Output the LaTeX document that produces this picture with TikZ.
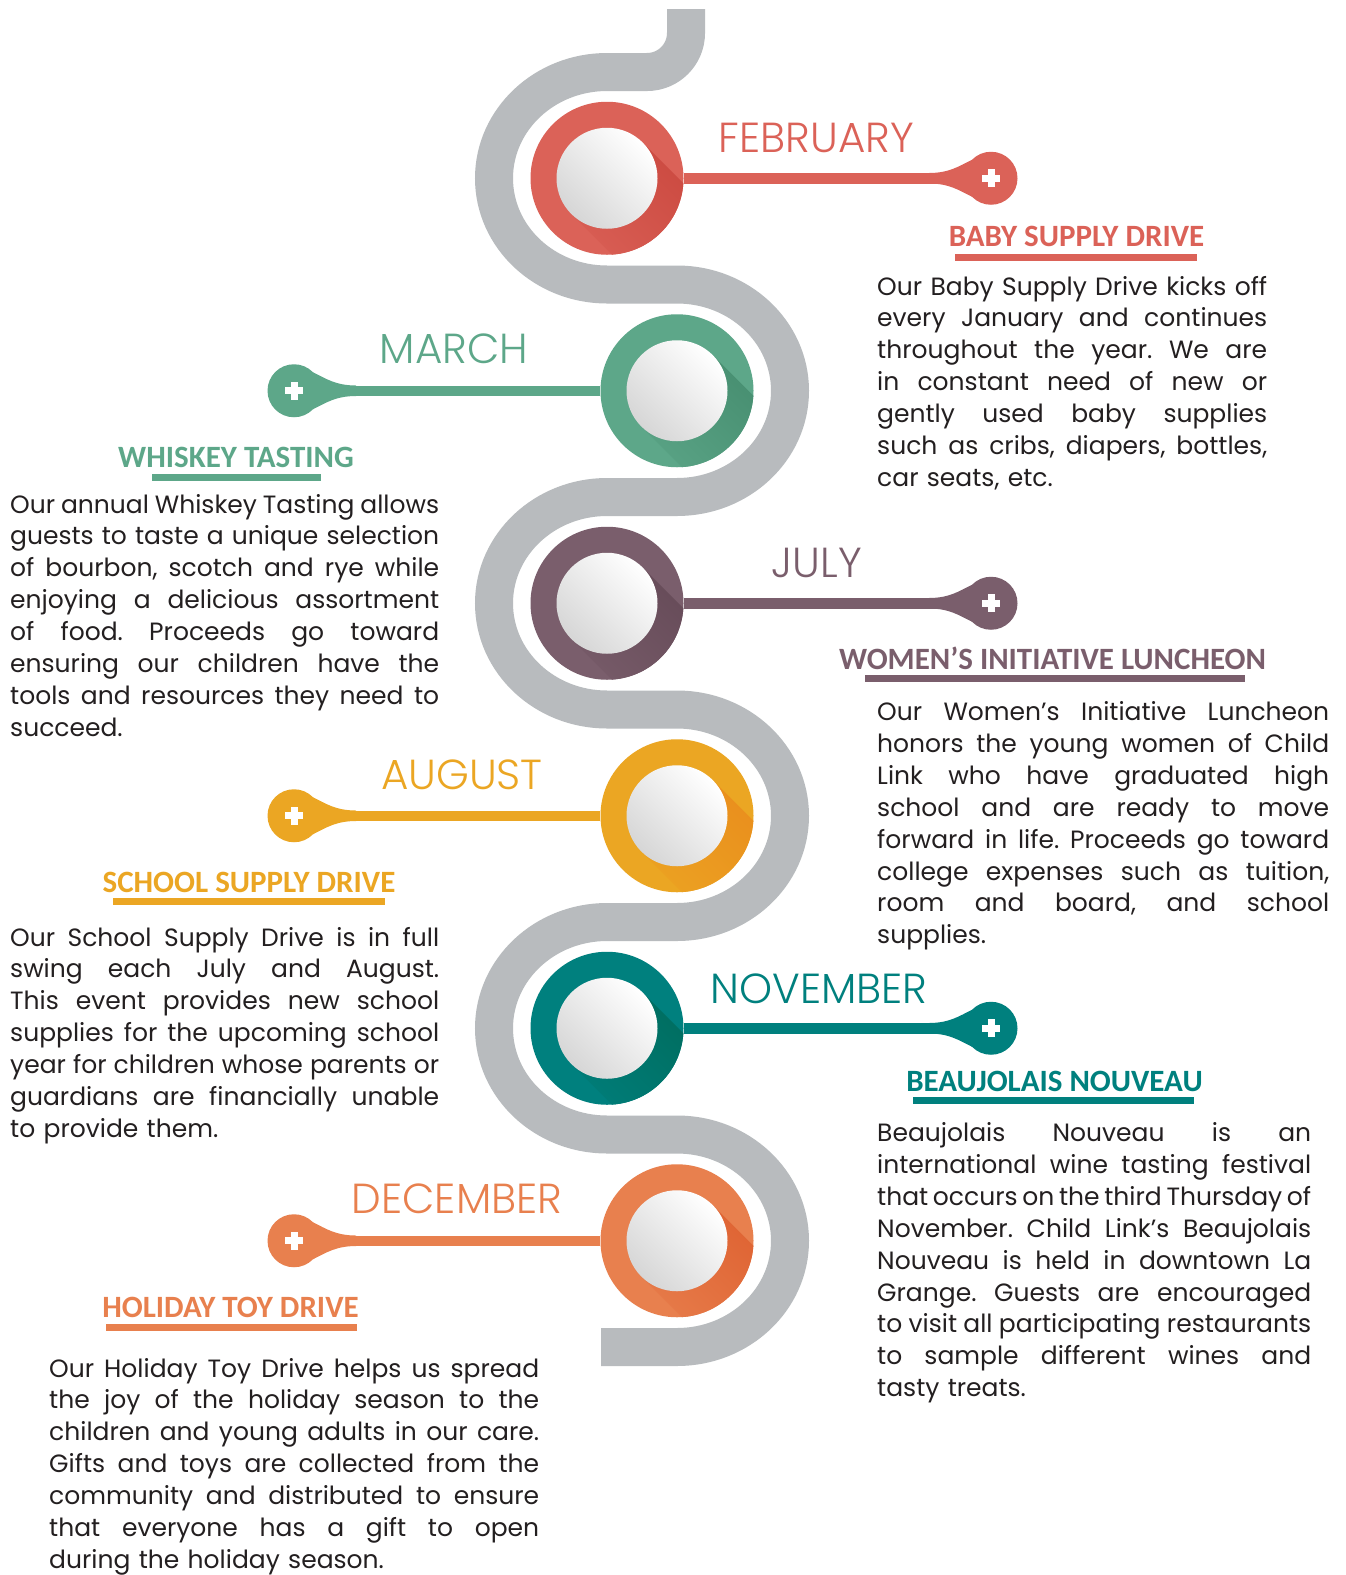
\documentclass[tikz,border=0pt]{standalone}
\usepackage{fontspec}
\usetikzlibrary{calc}
\setmainfont{Poppins}
\IfFontExistsTF{Poppins Light}{\newfontfamily\monthfont{Poppins Light}}{\newfontfamily\monthfont{Poppins}}
\newfontfamily\titlefont{Carlito}
\definecolor{roadgray}{HTML}{B8BBBE}
\definecolor{inkgray}{HTML}{231F20}
\definecolor{febcol}{HTML}{DB6258}
\definecolor{marcol}{HTML}{5DA789}
\definecolor{julcol}{HTML}{7A5E6C}
\definecolor{augcol}{HTML}{EBA623}
\definecolor{novcol}{HTML}{00807E}
\definecolor{deccol}{HTML}{E8804E}
\definecolor{febshd}{HTML}{C9463D}
\definecolor{marshd}{HTML}{438A6C}
\definecolor{julshd}{HTML}{634855}
\definecolor{augshd}{HTML}{EA8A1C}
\definecolor{novshd}{HTML}{006A5A}
\definecolor{decshd}{HTML}{DD5E2E}
\frenchspacing
\newcommand\evw{400pt}
\newcommand\jl[1]{\makebox[\evw][s]{\spaceskip=\fontdimen2\font plus 1em minus .2em\relax #1}}
% long shadow and white button inside a ring
\newcommand\evshine[3]{%
  \begin{scope}
    \clip (#1.center) circle[radius=76.5];
    \shade[left color=#3, right color=#2, shading angle=-45]
      ($(#1.center)+(35.7,-35.7)$) -- ++(110,110) -- ++(-71.4,71.4) -- ($(#1.center)+(-35.7,35.7)$) -- cycle;
  \end{scope}
  \shade[left color=white, right color=black!16, shading angle=-45] (#1.center) circle[radius=50.5];}
% widening of a connector where it meets the plus dot
\newcommand\evflare[3]{%
  \fill[#3] ($(#1)+(#2*62,-5.25)$) .. controls ($(#1)+(#2*42,-5.25)$) and ($(#1)+(#2*32,-12)$) .. ($(#1)+(#2*19,-18.5)$)
    -- ($(#1)+(#2*19,18.5)$) .. controls ($(#1)+(#2*32,12)$) and ($(#1)+(#2*42,5.25)$) .. ($(#1)+(#2*62,5.25)$) -- cycle;}

\begin{document}
\begin{tikzpicture}[x=1pt,y=-1pt]
\tikzset{
  evring/.style={circle,fill=#1,minimum size=153,inner sep=0},
  evdot/.style={circle,fill=#1,minimum size=53,inner sep=0,
    path picture={\fill[white] ($(path picture bounding box.center)+(-9,-3.5)$) rectangle ++(18,7);
                  \fill[white] ($(path picture bounding box.center)+(-3.5,-9)$) rectangle ++(7,18);}},
  evline/.style={draw=#1,line width=10.5},
  evmonth/.style={anchor=base,text=#1,inner sep=0,font=\monthfont\fontsize{42}{42}\selectfont},
  evtitle/.style={anchor=base,text=#1,inner sep=0,font=\titlefont\bfseries\fontsize{31}{31}\selectfont},
  evbar/.style={draw=#1,line width=7},
  evtext/.style={anchor=base west,text=inkgray,align=left,text width=#1,inner sep=0,
    execute at begin node={\renewcommand\evw{#1pt}},
    font=\fontsize{25}{31.9}\selectfont}
}
\useasboundingbox (0,0) rectangle (1345,1575);
\fill[white] (0,0) rectangle (1345,1575);

% the winding road
\draw[roadgray,line width=38] (686,9) -- (686,33) arc[start angle=0,end angle=90,radius=39] -- (607,72)
  arc[start angle=270,end angle=90,x radius=113,y radius=106.25] -- (677,284.5)
  arc[start angle=-90,end angle=90,x radius=113,y radius=106.25] -- (607,497)
  arc[start angle=270,end angle=90,x radius=113,y radius=106.25] -- (677,709.5)
  arc[start angle=-90,end angle=90,x radius=113,y radius=106.25] -- (607,922)
  arc[start angle=270,end angle=90,x radius=113,y radius=106.25] -- (677,1134.5)
  arc[start angle=-90,end angle=90,x radius=113,y radius=106.25] -- (601,1347);

% rings
\node[evring=febcol] (feb) at (607,178.25) {};
\evshine{feb}{febcol}{febshd}
\node[evring=marcol] (mar) at (677,390.75) {};
\evshine{mar}{marcol}{marshd}
\node[evring=julcol] (jul) at (607,603.25) {};
\evshine{jul}{julcol}{julshd}
\node[evring=augcol] (aug) at (677,815.75) {};
\evshine{aug}{augcol}{augshd}
\node[evring=novcol] (nov) at (607,1028.25) {};
\evshine{nov}{novcol}{novshd}
\node[evring=deccol] (dec) at (677,1240.75) {};
\evshine{dec}{deccol}{decshd}

% plus dots and connectors
\node[evdot=febcol] (febdot) at (991,178.25) {};
\draw[evline=febcol] (feb) -- (febdot);
\evflare{febdot}{-1}{febcol}
\node[evdot=marcol] (mardot) at (294,390.75) {};
\draw[evline=marcol] (mar) -- (mardot);
\evflare{mardot}{1}{marcol}
\node[evdot=julcol] (juldot) at (991,603.25) {};
\draw[evline=julcol] (jul) -- (juldot);
\evflare{juldot}{-1}{julcol}
\node[evdot=augcol] (augdot) at (294,815.75) {};
\draw[evline=augcol] (aug) -- (augdot);
\evflare{augdot}{1}{augcol}
\node[evdot=novcol] (novdot) at (991,1028.25) {};
\draw[evline=novcol] (nov) -- (novdot);
\evflare{novdot}{-1}{novcol}
\node[evdot=deccol] (decdot) at (294,1240.75) {};
\draw[evline=deccol] (dec) -- (decdot);
\evflare{decdot}{1}{deccol}

% months
\node[evmonth=febcol] (febm) at (816.5,152) {FEBRUARY};
\node[evmonth=marcol] (marm) at (454,363) {MARCH};
\node[evmonth=julcol] (julm) at (817,577) {JULY};
\node[evmonth=augcol] (augm) at (462,789) {AUGUST};
\node[evmonth=novcol] (novm) at (819,1003) {NOVEMBER};
\node[evmonth=deccol] (decm) at (457,1213) {DECEMBER};

% event titles
\node[evtitle=febcol] (febt) at (1076.5,246) {BABY SUPPLY DRIVE};
\draw[evbar=febcol] (955,257.5) -- (1197,257.5);
\node[evtitle=marcol] (mart) at (236,467) {WHISKEY TASTING};
\draw[evbar=marcol] (152,477.5) -- (321,477.5);
\node[evtitle=julcol] (jult) at (1052.5,669) {WOMEN’S INITIATIVE LUNCHEON};
\draw[evbar=julcol] (865,678.5) -- (1245,678.5);
\node[evtitle=augcol] (augt) at (249,892) {SCHOOL SUPPLY DRIVE};
\draw[evbar=augcol] (113,901) -- (385,901);
\node[evtitle=novcol] (novt) at (1054.5,1091) {BEAUJOLAIS NOUVEAU};
\draw[evbar=novcol] (913,1100.5) -- (1194,1100.5);
\node[evtitle=deccol] (dect) at (230.5,1317) {HOLIDAY TOY DRIVE};
\draw[evbar=deccol] (106,1327.5) -- (357,1327.5);

% texts
\node[evtext=390] (febp) at (877,295) {\jl{Our Baby Supply Drive kicks off}\\
  \jl{every January and continues}\\ \jl{throughout the year. We are}\\
  \jl{in constant need of new or}\\ \jl{gently used baby supplies}\\
  \jl{such as cribs, diapers, bottles,}\\ car seats, etc.};
\node[evtext=429] (marp) at (10,513) {\jl{Our annual Whiskey Tasting allows}\\
  \jl{guests to taste a unique selection}\\ \jl{of bourbon, scotch and rye while}\\
  \jl{enjoying a delicious assortment}\\ \jl{of food. Proceeds go toward}\\
  \jl{ensuring our children have the}\\ \jl{tools and resources they need to}\\ succeed.};
\node[evtext=452] (julp) at (877,720.5) {\jl{Our Women’s Initiative Luncheon}\\
  \jl{honors the young women of Child}\\ \jl{Link who have graduated high}\\
  \jl{school and are ready to move}\\ \jl{forward in life. Proceeds go toward}\\
  \jl{college expenses such as tuition,}\\ \jl{room and board, and school}\\ supplies.};
\node[evtext=429] (augp) at (10,946) {\jl{Our School Supply Drive is in full}\\
  \jl{swing each July and August.}\\ \jl{This event provides new school}\\
  \jl{supplies for the upcoming school}\\ \jl{year for children whose parents or}\\
  \jl{guardians are financially unable}\\ to provide them.};
\node[evtext=434] (novp) at (877,1141.5) {\jl{Beaujolais Nouveau is an}\\
  \jl{international wine tasting festival}\\ \jl{that occurs on the third Thursday of}\\
  \jl{November. Child Link’s Beaujolais}\\ \jl{Nouveau is held in downtown La}\\
  \jl{Grange. Guests are encouraged}\\ \jl{to visit all participating restaurants}\\
  \jl{to sample different wines and}\\ tasty treats.};
\node[evtext=490] (decp) at (49,1377) {\jl{Our Holiday Toy Drive helps us spread}\\
  \jl{the joy of the holiday season to the}\\ \jl{children and young adults in our care.}\\
  \jl{Gifts and toys are collected from the}\\ \jl{community and distributed to ensure}\\
  \jl{that everyone has a gift to open}\\ during the holiday season.};
\end{tikzpicture}
\end{document}
